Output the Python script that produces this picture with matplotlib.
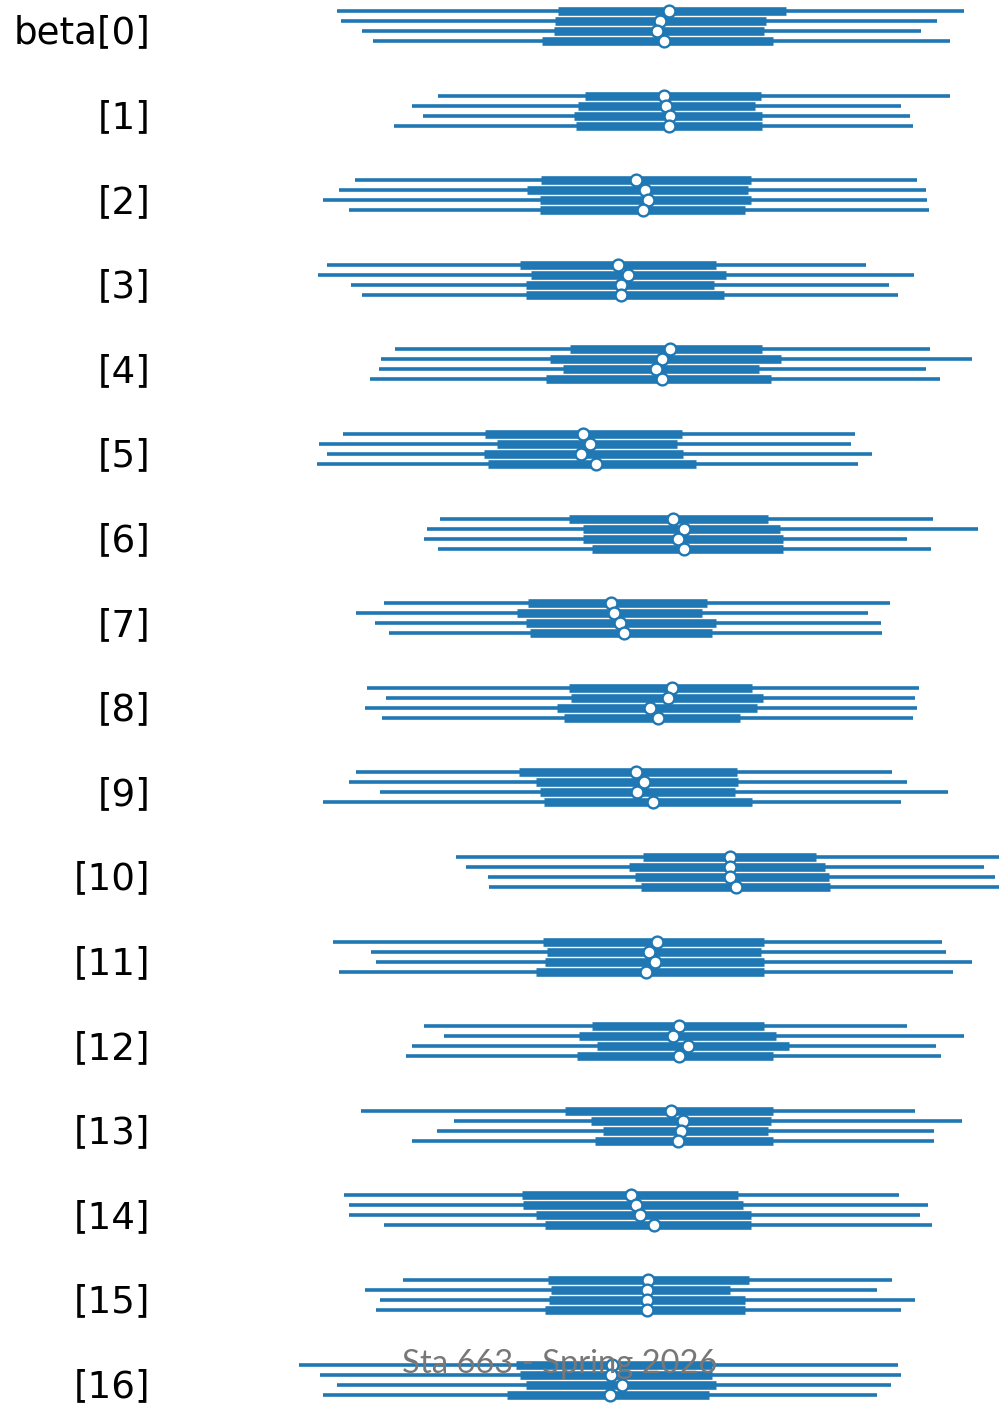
import numpy as np
import matplotlib
matplotlib.use("Agg")
import matplotlib.pyplot as plt
import matplotlib.transforms as mtransforms

# parameter names (top to bottom)
labels = ["beta[0]"] + ["[%d]" % i for i in range(1, 17)]

# per parameter, 4 chains: 94% hdi low / 50% low / median / 50% high / 94% hdi high
hdi_lo = [
    [-3.13, -3.09, -2.88, -2.77], [-2.12, -2.38, -2.27, -2.56], [-2.95, -3.11, -3.27, -3.01],
    [-3.23, -3.32, -2.99, -2.88], [-2.55, -2.69, -2.71, -2.80], [-3.07, -3.31, -3.23, -3.33],
    [-2.10, -2.23, -2.26, -2.12], [-2.66, -2.94, -2.75, -2.61], [-2.83, -2.64, -2.85, -2.68],
    [-2.94, -3.01, -2.70, -3.27], [-1.94, -1.84, -1.62, -1.61], [-3.17, -2.79, -2.74, -3.11],
    [-2.26, -2.06, -2.38, -2.44], [-2.89, -1.96, -2.13, -2.38], [-3.06, -3.01, -3.01, -2.66],
    [-2.47, -2.85, -2.70, -2.74], [-3.51, -3.30, -3.13, -3.27],
]
q_lo = [
    [-0.92, -0.95, -0.96, -1.08], [-0.65, -0.72, -0.76, -0.74], [-1.09, -1.23, -1.10, -1.10],
    [-1.30, -1.19, -1.24, -1.24], [-0.80, -1.00, -0.87, -1.04], [-1.65, -1.53, -1.66, -1.62],
    [-0.81, -0.67, -0.67, -0.58], [-1.22, -1.33, -1.24, -1.20], [-0.81, -0.79, -0.93, -0.86],
    [-1.31, -1.14, -1.10, -1.06], [-0.07, -0.21, -0.15, -0.09], [-1.07, -1.03, -1.05, -1.14],
    [-0.58, -0.71, -0.53, -0.73], [-0.85, -0.59, -0.47, -0.55], [-1.28, -1.27, -1.14, -1.05],
    [-1.02, -0.99, -1.01, -1.05], [-1.34, -1.30, -1.24, -1.43],
]
median = [
    [0.19, 0.10, 0.07, 0.14], [0.14, 0.16, 0.20, 0.19], [-0.14, -0.05, -0.02, -0.07],
    [-0.32, -0.22, -0.29, -0.29], [0.20, 0.12, 0.06, 0.12], [-0.67, -0.60, -0.69, -0.54],
    [0.23, 0.34, 0.28, 0.34], [-0.39, -0.36, -0.30, -0.26], [0.22, 0.18, 0.00, 0.08],
    [-0.14, -0.06, -0.13, 0.03], [0.80, 0.80, 0.80, 0.86], [0.07, -0.01, 0.05, -0.04],
    [0.29, 0.23, 0.38, 0.29], [0.21, 0.33, 0.31, 0.28], [-0.19, -0.14, -0.10, 0.04],
    [-0.02, -0.03, -0.03, -0.03], [-0.38, -0.39, -0.28, -0.40],
]
q_hi = [
    [1.36, 1.16, 1.14, 1.23], [1.11, 1.05, 1.12, 1.12], [1.01, 0.98, 1.01, 0.95],
    [0.66, 0.76, 0.64, 0.74], [1.12, 1.31, 1.09, 1.21], [0.32, 0.27, 0.33, 0.46],
    [1.18, 1.30, 1.33, 1.33], [0.57, 0.52, 0.66, 0.62], [1.02, 1.13, 1.07, 0.90],
    [0.87, 0.88, 0.85, 1.02], [1.66, 1.75, 1.79, 1.80], [1.14, 1.11, 1.14, 1.14],
    [1.14, 1.26, 1.39, 1.23], [1.23, 1.21, 1.18, 1.23], [0.88, 0.93, 1.01, 1.01],
    [0.99, 0.80, 0.95, 0.95], [0.62, 0.62, 0.66, 0.59],
]
hdi_hi = [
    [3.14, 2.87, 2.71, 3.00], [3.00, 2.51, 2.60, 2.63], [2.67, 2.76, 2.77, 2.79],
    [2.16, 2.64, 2.39, 2.48], [2.80, 3.22, 2.76, 2.90], [2.05, 2.01, 2.22, 2.08],
    [2.83, 3.28, 2.57, 2.81], [2.40, 2.18, 2.31, 2.32], [2.69, 2.65, 2.67, 2.63],
    [2.42, 2.57, 2.98, 2.51], [3.58, 3.34, 3.45, 3.55], [2.92, 2.96, 3.22, 3.03],
    [2.57, 3.14, 2.86, 2.91], [2.65, 3.12, 2.84, 2.84], [2.49, 2.78, 2.70, 2.82],
    [2.42, 2.27, 2.65, 2.51], [2.48, 2.51, 2.41, 2.27],
]

color = "#1f77b4"
n = len(labels)
chain_off = [0.177, 0.059, -0.059, -0.177]

fig = plt.figure(figsize=(9.99, 14.03), dpi=100)
ax = fig.add_axes([160 / 999, 0, 839 / 999, 1])

for k in range(n):
    yc = n - 1 - k
    for c in range(4):
        y = yc + chain_off[c]
        ax.plot([hdi_lo[k][c], hdi_hi[k][c]], [y, y], color=color, lw=2.6,
                solid_capstyle="butt", zorder=2)
        ax.plot([q_lo[k][c], q_hi[k][c]], [y, y], color=color, lw=6.2,
                solid_capstyle="butt", zorder=3)
        ax.plot(median[k][c], y, "o", ms=8.5, mfc="white", mec=color, mew=1.7,
                zorder=4)

ax.set_xlim(-4.9, 3.49)
ax.set_ylim(-0.277, n - 1 + 0.307)
ax.set_yticks(np.arange(n - 1, -1, -1))
ax.set_yticklabels(labels, fontsize=26.8)
ax.tick_params(axis="y", length=0, pad=7)
ax.set_xticks([])
for s in ax.spines.values():
    s.set_visible(False)

# labels sit a few pixels lower in the original
shift = mtransforms.ScaledTranslation(0, -3 / 100, fig.dpi_scale_trans)
for t in ax.get_yticklabels():
    t.set_transform(t.get_transform() + shift)

fig.text(560 / 999, 1 - 1364 / 1403, "Sta 663 - Spring 2026", ha="center",
         va="center", fontsize=23.6, color="#777777", family="Lato")

fig.savefig("out.png", dpi=100)
